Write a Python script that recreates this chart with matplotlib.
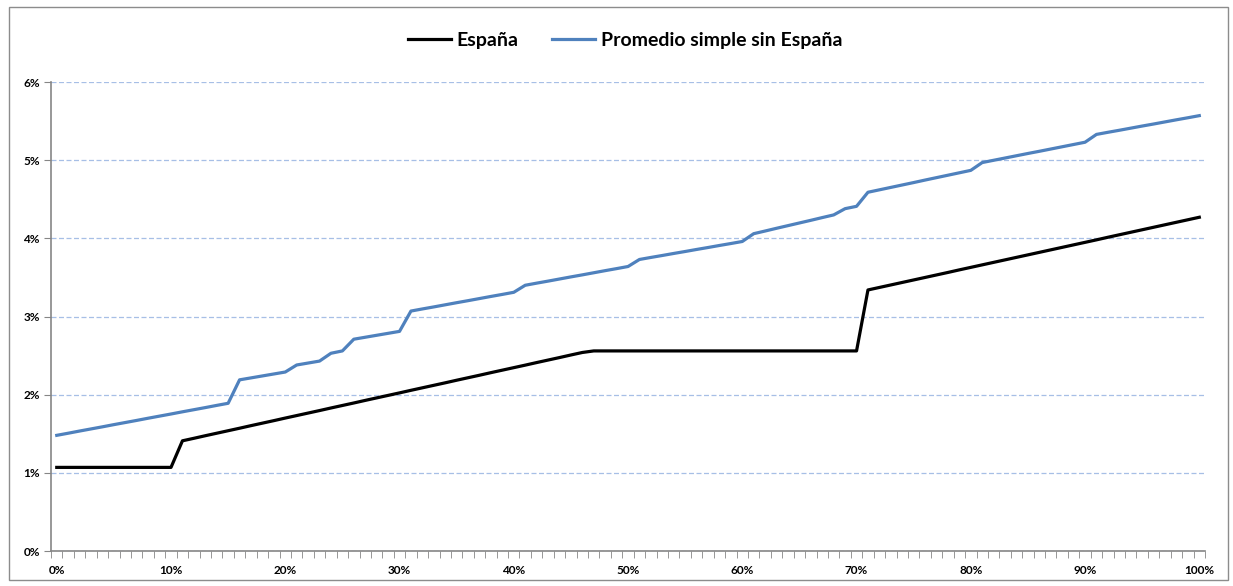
import matplotlib.pyplot as plt
from matplotlib.patches import Rectangle
from matplotlib.ticker import FixedLocator, FuncFormatter

# percentiles 0%..100% (one category per point)
pct = list(range(101))

espana = [1.07] * 11 + [
    1.410, 1.442, 1.475, 1.507, 1.539, 1.571, 1.604, 1.636, 1.668, 1.701,
    1.733, 1.765, 1.797, 1.830, 1.862, 1.894, 1.927, 1.959, 1.991, 2.023,
    2.056, 2.088, 2.120, 2.152, 2.185, 2.217, 2.249, 2.282, 2.314, 2.346,
    2.378, 2.411, 2.443, 2.475, 2.508, 2.540] + [2.56] * 24 + [
    3.340, 3.372, 3.404, 3.436, 3.468, 3.500, 3.532, 3.564, 3.597, 3.629,
    3.661, 3.693, 3.725, 3.757, 3.789, 3.821, 3.853, 3.885, 3.917, 3.949,
    3.981, 4.014, 4.046, 4.078, 4.110, 4.142, 4.174, 4.206, 4.238, 4.270]

promedio = [
    1.480, 1.507, 1.535, 1.562, 1.589, 1.617, 1.644, 1.671, 1.699, 1.726,
    1.753, 1.781, 1.808, 1.835, 1.863, 1.890,
    2.190, 2.215, 2.240, 2.265, 2.290,
    2.380, 2.405, 2.430,
    2.530, 2.560,
    2.710, 2.735, 2.760, 2.785, 2.810,
    3.070, 3.097, 3.123, 3.150, 3.177, 3.203, 3.230, 3.257, 3.283, 3.310,
    3.400, 3.427, 3.453, 3.480, 3.507, 3.533, 3.560, 3.587, 3.613, 3.640,
    3.730, 3.756, 3.781, 3.807, 3.832, 3.858, 3.883, 3.909, 3.934, 3.960,
    4.060, 4.094, 4.129, 4.163, 4.197, 4.231, 4.266, 4.300,
    4.380, 4.410,
    4.590, 4.621, 4.652, 4.683, 4.714, 4.746, 4.777, 4.808, 4.839, 4.870,
    4.970, 4.999, 5.028, 5.057, 5.086, 5.114, 5.143, 5.172, 5.201, 5.230,
    5.330, 5.357, 5.383, 5.410, 5.437, 5.463, 5.490, 5.517, 5.543, 5.570]

plt.rcParams['font.family'] = ['Lato', 'DejaVu Sans']
plt.rcParams['font.weight'] = 'bold'

fig = plt.figure(figsize=(12.33, 5.86), dpi=100)
ax = fig.add_axes([0.0414, 0.0597, 0.9359, 0.8003])

# borde exterior del gráfico
fig.patches.append(Rectangle((0.0073, 0.011), 0.9887, 0.977, transform=fig.transFigure,
                             fill=False, edgecolor='#8c8c8c', lw=1.0))

ax.plot(pct, espana, color='black', lw=2.3, label='España', zorder=3)
ax.plot(pct, promedio, color='#4F81BD', lw=2.3, label='Promedio simple sin España', zorder=3)

ax.set_xlim(-0.5, 100.5)
ax.set_ylim(0, 6)

gray = '#868686'
for s in ['top', 'right']:
    ax.spines[s].set_visible(False)
for s in ['left', 'bottom']:
    ax.spines[s].set_color(gray)
    ax.spines[s].set_linewidth(1.2)

ax.set_yticks(range(7))
ax.yaxis.set_major_formatter(FuncFormatter(lambda v, p: '%d%%' % v))
ax.tick_params(axis='y', length=5, color=gray, labelsize=8.5, pad=3)
ax.yaxis.grid(True, color='#A7BFE6', ls=(0, (4, 2)), lw=0.9)
ax.set_axisbelow(True)

ax.set_xticks(range(0, 101, 10))
ax.set_xticklabels(['%d%%' % v for v in range(0, 101, 10)])
ax.xaxis.set_minor_locator(FixedLocator([i - 0.5 for i in range(102)]))
ax.tick_params(axis='x', which='major', length=0, labelsize=8.5, pad=10)
ax.tick_params(axis='x', which='minor', length=5, color=gray)

fig.legend(loc='center', bbox_to_anchor=(0.507, 0.931), ncol=2, frameon=False,
           fontsize=14, handlelength=2.2, columnspacing=1.7, handletextpad=0.3)

fig.savefig('out.png', dpi=100)
